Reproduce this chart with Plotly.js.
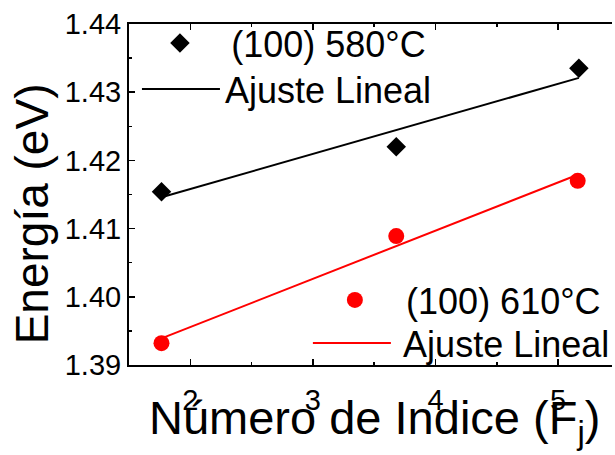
<!DOCTYPE html>
<html>
<head>
<meta charset="utf-8">
<script src="https://cdn.plot.ly/plotly-3.0.1.min.js"></script>
<style>html,body{margin:0;padding:0;background:#fff;}#chart{width:615px;height:455px;}</style>
</head>
<body>
<div id="chart"></div>
<script>
// Data
var fj580 = [1.765, 3.68, 5.17];
var e580 = [1.4154, 1.4220, 1.4335];
var fj610 = [1.765, 3.68, 5.16];
var e610 = [1.3932, 1.4089, 1.4170];
// Linear-fit lines as drawn (end points)
var fitX580 = [1.765, 5.17];
var fitY580 = [1.4146, 1.4321];
var fitX610 = [1.765, 5.16];
var fitY610 = [1.3939, 1.4179];
var xTicks = [2, 3, 4, 5];
var yTicks = [1.39, 1.40, 1.41, 1.42, 1.43, 1.44];
var name580 = "(100) 580°C";
var name610 = "(100) 610°C";
var fitName = "Ajuste Lineal";
var xTitle = "Número de Indice (F<sub>j</sub>)";
var yTitle = "Energía (eV)";

var FONT = "Liberation Sans, Arial, sans-serif";
var SP = "\u2009";

var traces = [
  {x: fj580, y: e580, mode: "markers", type: "scatter", name: SP + name580,
   marker: {symbol: "diamond", size: 15, color: "#000"}, legend: "legend"},
  {x: fitX580, y: fitY580, mode: "lines", type: "scatter", name: fitName,
   line: {color: "#000", width: 2}, legend: "legend2"},
  {x: fj610, y: e610, mode: "markers", type: "scatter", name: SP + name610,
   marker: {symbol: "circle", size: 16, color: "#ff0000"}, legend: "legend3"},
  {x: fitX610, y: fitY610, mode: "lines", type: "scatter", name: SP + fitName,
   line: {color: "#ff0000", width: 2}, legend: "legend4"}
];

var axisCommon = {
  showgrid: false, zeroline: false, showline: true, linecolor: "#000", linewidth: 2,
  ticks: "inside", ticklen: 6, tickwidth: 1.5, tickcolor: "#000",
  tickfont: {family: FONT, size: 29, color: "#000"}
};

function leg(px, py) {
  return {
    x: (px - 129) / 486, y: (365 - py) / 341, xanchor: "left", yanchor: "middle",
    bgcolor: "rgba(0,0,0,0)", borderwidth: 0,
    font: {family: FONT, size: 36, color: "#000"}, itemwidth: 78
  };
}

var layout = {
  width: 615, height: 455,
  margin: {l: 129, r: 0, t: 24, b: 90},
  paper_bgcolor: "#fff", plot_bgcolor: "#fff",
  font: {family: FONT, color: "#000"},
  xaxis: Object.assign({}, axisCommon, {
    range: [1.5, 5.44], tickvals: xTicks, ticktext: xTicks.map(String),
    mirror: "ticks", ticklabelstandoff: 8,
    minor: {dtick: 0.5, ticks: "inside", ticklen: 3, tickwidth: 1.5, tickcolor: "#000", showgrid: false}
  }),
  yaxis: Object.assign({}, axisCommon, {
    range: [1.39, 1.44], tickvals: yTicks, ticktext: yTicks.map(function(v){return v.toFixed(2);}),
    mirror: false,
    minor: {dtick: 0.005, ticks: "inside", ticklen: 3, tickwidth: 1.5, tickcolor: "#000", showgrid: false}
  }),
  annotations: [
    {text: yTitle, textangle: -90, showarrow: false,
     xref: "paper", yref: "paper", x: -0.2, y: 0.443, xanchor: "center", yanchor: "middle",
     font: {family: FONT, size: 46, color: "#000"}},
    {text: xTitle, showarrow: false,
     xref: "paper", yref: "paper", x: 0.508, y: -0.165, xanchor: "center", yanchor: "middle",
     font: {family: FONT, size: 47, color: "#000"}}
  ],
  legend: leg(136, 43),
  legend2: leg(137, 89),
  legend3: leg(312, 300),
  legend4: leg(309, 343),
  showlegend: true
};

Plotly.newPlot("chart", traces, layout, {displayModeBar: false, staticPlot: true});
</script>
</body>
</html>
